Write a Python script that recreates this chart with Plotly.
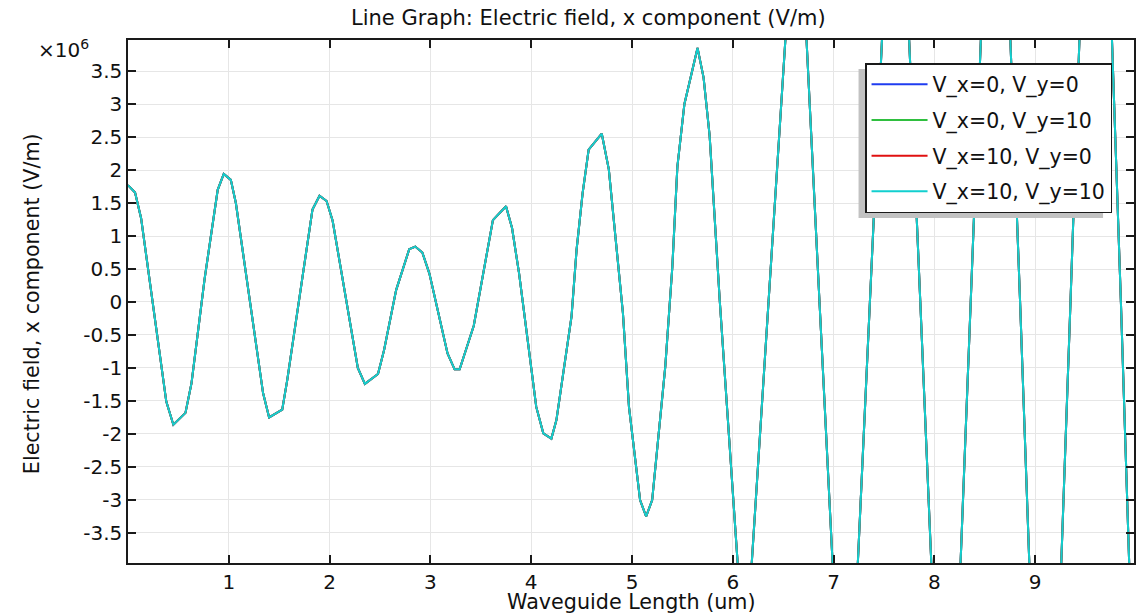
import plotly.graph_objects as go

# ---------------- data ----------------
# Waveguide length (um) at the mesh vertices of the line graph
x_um = [
    0.00, 0.07, 0.13, 0.38, 0.45, 0.57, 0.63, 0.76, 0.89, 0.95, 1.02, 1.07,
    1.34, 1.40, 1.53, 1.58, 1.83, 1.90, 1.97, 2.03, 2.28, 2.35, 2.48, 2.54,
    2.66, 2.79, 2.85, 2.92, 2.99, 3.17, 3.24, 3.29, 3.43, 3.57, 3.62, 3.75,
    3.81, 3.88, 4.05, 4.12, 4.20, 4.25, 4.33, 4.40, 4.45, 4.51, 4.57, 4.70,
    4.77, 4.84, 4.91, 4.97, 5.08, 5.14, 5.20, 5.33, 5.40, 5.45, 5.52, 5.65,
    5.71, 5.77, 5.87, 6.12, 6.355, 6.64, 6.86, 7.12, 7.36, 7.62, 7.86, 8.12,
    8.36, 8.61, 8.85, 9.10, 9.35, 9.60, 9.85, 10.00,
]

# Electric field, x component, in units of 1e6 V/m
ex_1e6 = [
    1.77, 1.66, 1.27, -1.51, -1.86, -1.68, -1.23, 0.35, 1.70, 1.94, 1.85, 1.50,
    -1.38, -1.75, -1.63, -1.18, 1.40, 1.61, 1.53, 1.23, -1.00, -1.24, -1.09, -0.73,
    0.18, 0.80, 0.84, 0.75, 0.43, -0.78, -1.02, -1.02, -0.36, 0.84, 1.24, 1.45,
    1.12, 0.43, -1.59, -1.99, -2.07, -1.79, -0.93, -0.22, 0.79, 1.65, 2.31, 2.55,
    2.01, 0.94, -0.17, -1.59, -3.00, -3.25, -3.00, -0.98, 0.53, 2.05, 3.00, 3.85,
    3.40, 2.52, 0.03, -5.57, 0.00, 6.79, 0.00, -7.92, 0.00, 8.62, 0.00, -9.43,
    0.00, 9.87, 0.00, -10.81, 0.00, 11.21, 0.00, -7.22,
]

series_names = ["V_x=0, V_y=0", "V_x=0, V_y=10", "V_x=10, V_y=0", "V_x=10, V_y=10"]
series_values = [ex_1e6, ex_1e6, ex_1e6, ex_1e6]
series_colors = ["#1f3cf0", "#2fbf3f", "#e01010", "#12cfcf"]

x_tick_vals = [1, 2, 3, 4, 5, 6, 7, 8, 9]
y_tick_vals = [-3.5, -3, -2.5, -2, -1.5, -1, -0.5, 0, 0.5, 1, 1.5, 2, 2.5, 3, 3.5]
y_tick_text = ["-3.5", "-3", "-2.5", "-2", "-1.5", "-1", "-0.5", "0",
               "0.5", "1", "1.5", "2", "2.5", "3", "3.5"]

title_text = "Line Graph: Electric field, x component (V/m)"
x_title = "Waveguide Length (um)"
y_title = "Electric field, x component (V/m)"

# ---------------- layout geometry (pixels) ----------------
W, H = 1137, 613
L, R, T, B = 128, 1, 40, 50
PW, PH = W - L - R, H - T - B


def px(xp):
    return (xp - L) / PW


def py(yp):
    return (H - B - yp) / PH


FONT = "DejaVu Sans"
TXT = "#111111"

fig = go.Figure()
for name, vals, col in zip(series_names, series_values, series_colors):
    fig.add_trace(go.Scatter(
        x=x_um, y=vals, mode="lines", name=name,
        line=dict(color=col, width=2), legendgroup=name,
    ))

axis_common = dict(
    showline=True, linecolor="#1a1a1a", linewidth=1.5, mirror="ticks",
    ticks="inside", ticklen=8, tickwidth=1.5, tickcolor="#1a1a1a",
    showgrid=True, gridcolor="#e6e6e6", gridwidth=1, zeroline=False,
    tickfont=dict(family=FONT, size=20, color=TXT),
)

fig.update_layout(
    width=W, height=H, autosize=False,
    margin=dict(l=L, r=R, t=T, b=B, pad=0),
    paper_bgcolor="white", plot_bgcolor="white",
    font=dict(family=FONT, size=20, color=TXT),
    xaxis=dict(range=[0, 9.98], tickvals=x_tick_vals, **axis_common),
    yaxis=dict(range=[-3.955, 3.97], tickvals=y_tick_vals, ticktext=y_tick_text,
               ticklabelstandoff=0, **axis_common),
    showlegend=True,
    legend=dict(
        x=px(1114), y=py(63), xanchor="right", yanchor="top",
        bgcolor="white", bordercolor="#1a1a1a", borderwidth=1.5,
        font=dict(family=FONT, size=20.5, color=TXT),
        tracegroupgap=6, itemwidth=56,
    ),
    shapes=[dict(
        type="rect", xref="paper", yref="paper", layer="above",
        x0=px(860), x1=px(1105), y0=py(218), y1=py(69),
        fillcolor="#c2c2c2", line=dict(width=0),
    )],
    annotations=[
        dict(text=title_text, xref="paper", yref="paper", x=px(589), y=py(18),
             xanchor="center", yanchor="middle", showarrow=False,
             font=dict(family=FONT, size=21, color=TXT)),
        dict(text=x_title, xref="paper", yref="paper", x=px(633), y=py(602),
             xanchor="center", yanchor="middle", showarrow=False,
             font=dict(family=FONT, size=20.7, color=TXT)),
        dict(text=y_title, xref="paper", yref="paper", x=px(32), y=py(304),
             xanchor="center", yanchor="middle", showarrow=False, textangle=-90,
             font=dict(family=FONT, size=20.7, color=TXT)),
        dict(text="×10<sup>6</sup>", xref="paper", yref="paper", x=px(91), y=py(49),
             xanchor="right", yanchor="middle", showarrow=False,
             font=dict(family=FONT, size=20, color=TXT)),
    ],
)

fig.write_html("out.html")
